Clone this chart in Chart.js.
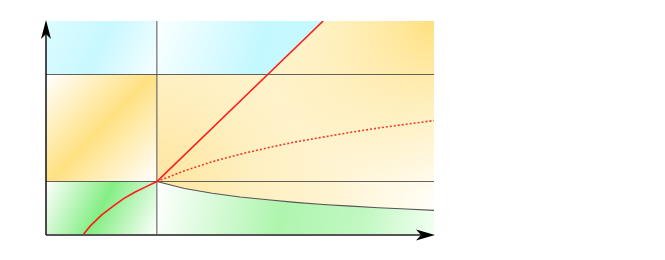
<!DOCTYPE html>
<html lang="en">
<head>
  <meta charset="UTF-8">
  <title>Regions chart</title>
  <script src="https://cdn.jsdelivr.net/npm/chart.js"></script>
  <style>
    html, body { margin: 0; padding: 0; background: #fff; }
    canvas { display: block; }
  </style>
</head>
<body>
  <canvas id="chart" width="665" height="260"></canvas>
  <script>
    // axis ranges and the band / divider levels
    const xMax = 3.5;
    const yMax = 4;
    const pivotX = 1;
    const bandLevels = [1, 3];

    // red solid curve, left part (concave) and right part (straight)
    const redLeftX = [0.333, 0.4, 0.5, 0.6, 0.7, 0.8, 0.9, 1];
    const redLeftY = [0, 0.17, 0.37, 0.53, 0.68, 0.8, 0.9, 1];
    const redRightX = [2, 2.5];
    const redRightY = [3, 4];

    // right-hand curves
    const curveX = [1, 1.25, 1.5, 1.75, 2, 2.25, 2.5, 2.75, 3, 3.25, 3.5];
    const dottedY = [1, 1.2, 1.37, 1.51, 1.63, 1.74, 1.83, 1.92, 2.0, 2.07, 2.14];
    const lowerY = [1, 0.87, 0.78, 0.71, 0.66, 0.61, 0.57, 0.54, 0.51, 0.485, 0.46];

    const CYAN = '#c4f8ff';
    const YELLOW = '#ffe182';
    const GREEN = '#84ee84';

    const pts = (xs, ys) => xs.map((x, i) => ({ x: x, y: ys[i] }));
    const redPts = pts(redLeftX, redLeftY).concat(pts(redRightX, redRightY));

    // gradient across a box given in data units
    function boxGradient(c, x0, y0, x1, y1, stops) {
      const chart = c.chart;
      if (!chart.chartArea) return null;
      const sx = chart.scales.x, sy = chart.scales.y;
      const g = chart.ctx.createLinearGradient(
        sx.getPixelForValue(x0), sy.getPixelForValue(y0),
        sx.getPixelForValue(x1), sy.getPixelForValue(y1));
      stops.forEach(s => g.addColorStop(s[0], s[1]));
      return g;
    }

    // radial glow around a data point, radius in px
    function glow(c, x, y, r, stops) {
      const chart = c.chart;
      if (!chart.chartArea) return null;
      const px = chart.scales.x.getPixelForValue(x);
      const py = chart.scales.y.getPixelForValue(y);
      const g = chart.ctx.createRadialGradient(px, py, 0, px, py, r);
      stops.forEach(s => g.addColorStop(s[0], s[1]));
      return g;
    }

    function line(data, color, width, extra) {
      return Object.assign({
        data: data,
        borderColor: color,
        borderWidth: width,
        pointRadius: 0,
        fill: false,
        tension: 0
      }, extra || {});
    }

    const datasets = [
      // curves on top
      line(redPts, '#ff1a1a', 1.6, { order: 0 }),
      line(pts(curveX, dottedY), '#f03a2a', 1.6, { order: 0, borderDash: [2, 2] }),
      line(pts(curveX, lowerY), '#555', 1.1, { order: 1 }),
      // divider lines
      line([{ x: pivotX, y: 0 }, { x: pivotX, y: yMax }], 'rgba(70,70,70,0.85)', 1.1, { order: 1 }),
      line([{ x: 0, y: bandLevels[0] }, { x: xMax, y: bandLevels[0] }], 'rgba(70,70,70,0.85)', 1.1, { order: 1 }),
      line([{ x: 0, y: bandLevels[1] }, { x: xMax, y: bandLevels[1] }], 'rgba(70,70,70,0.85)', 1.1, { order: 1 }),

      // cyan wedge above top band, left of red line
      line([{ x: pivotX, y: bandLevels[1] }].concat(pts(redRightX, redRightY)), 'transparent', 0, {
        order: 2, fill: 'end',
        backgroundColor: c => boxGradient(c, pivotX, yMax, 2.5, bandLevels[1],
          [[0, '#fbffff'], [0.6, CYAN], [1, '#c8f9ff']])
      }),
      // yellow above the lower curve: glow in the top right corner
      line(pts(curveX, lowerY), 'transparent', 0, {
        order: 3, fill: 'end',
        backgroundColor: c => glow(c, xMax, yMax, 175,
          [[0, 'rgba(255,224,128,1)'], [0.5, 'rgba(255,226,135,0.5)'], [1, 'rgba(255,226,135,0)']])
      }),
      // yellow above the lower curve: base, stronger near the pivot
      line(pts(curveX, lowerY), 'transparent', 0, {
        order: 4, fill: 'end',
        backgroundColor: c => glow(c, pivotX, bandLevels[0], 285,
          [[0, '#ffe6a0'], [0.35, '#fff0c2'], [0.6, '#fff4d0'], [1, '#fffefa']])
      }),
      // green below the lower curve
      line(pts(curveX, lowerY), 'transparent', 0, {
        order: 4, fill: 'origin',
        backgroundColor: c => boxGradient(c, pivotX, bandLevels[0], xMax, 0,
          [[0, '#ffffff'], [0.45, '#aef5ae'], [0.75, '#c2f8c2'], [1, '#f2fff2']])
      }),
      // left column boxes
      line([{ x: 0, y: bandLevels[0] }, { x: pivotX, y: bandLevels[0] }], 'transparent', 0, {
        order: 4, fill: 'origin',
        backgroundColor: c => boxGradient(c, 0, bandLevels[0], pivotX, 0,
          [[0, '#ffffff'], [0.5, GREEN], [1, '#ffffff']])
      }),
      line([{ x: 0, y: bandLevels[1] }, { x: pivotX, y: bandLevels[1] }], 'transparent', 0, {
        order: 4, fill: { value: bandLevels[0] },
        backgroundColor: c => boxGradient(c, 0, bandLevels[1], pivotX, bandLevels[0],
          [[0, '#ffffff'], [0.5, YELLOW], [1, '#ffffff']])
      }),
      line([{ x: 0, y: yMax }, { x: pivotX, y: yMax }], 'transparent', 0, {
        order: 4, fill: { value: bandLevels[1] },
        backgroundColor: c => boxGradient(c, 0, yMax, pivotX, bandLevels[1],
          [[0, '#dcfcff'], [0.5, '#c8f8ff'], [1, '#f6feff']])
      })
    ];

    // axis lines with arrowheads
    const arrowAxes = {
      id: 'arrowAxes',
      afterDatasetsDraw(chart) {
        const ctx = chart.ctx;
        const a = chart.chartArea;
        const x0 = chart.scales.x.getPixelForValue(0);
        const y0 = chart.scales.y.getPixelForValue(0);
        ctx.save();
        ctx.strokeStyle = '#555';
        ctx.lineWidth = 2;
        ctx.beginPath();
        ctx.moveTo(x0, y0);
        ctx.lineTo(a.right - 10, y0);
        ctx.stroke();
        ctx.strokeStyle = '#111';
        ctx.lineWidth = 1.5;
        ctx.beginPath();
        ctx.moveTo(x0, y0);
        ctx.lineTo(x0, a.top + 10);
        ctx.stroke();

        ctx.fillStyle = '#000';
        // x arrow
        const tx = a.right + 1;
        ctx.beginPath();
        ctx.moveTo(tx, y0);
        ctx.lineTo(tx - 19, y0 - 5.5);
        ctx.lineTo(tx - 14, y0);
        ctx.lineTo(tx - 19, y0 + 5.5);
        ctx.closePath();
        ctx.fill();
        // y arrow
        const ty = a.top - 1;
        ctx.beginPath();
        ctx.moveTo(x0, ty);
        ctx.lineTo(x0 - 5, ty + 19);
        ctx.lineTo(x0, ty + 14);
        ctx.lineTo(x0 + 5, ty + 19);
        ctx.closePath();
        ctx.fill();
        ctx.restore();
      }
    };

    new Chart(document.getElementById('chart').getContext('2d'), {
      type: 'line',
      data: { datasets: datasets },
      options: {
        responsive: false,
        animation: false,
        layout: { padding: { left: 46, right: 231, top: 21, bottom: 25 } },
        scales: {
          x: { type: 'linear', min: 0, max: xMax, display: false },
          y: { type: 'linear', min: 0, max: yMax, display: false }
        },
        plugins: {
          legend: { display: false },
          tooltip: { enabled: false }
        }
      },
      plugins: [arrowAxes]
    });
  </script>
</body>
</html>
